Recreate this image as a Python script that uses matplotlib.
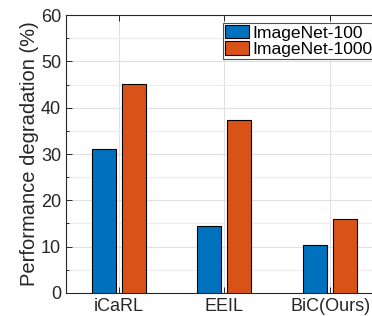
import matplotlib
matplotlib.use("Agg")
import matplotlib.pyplot as plt
from matplotlib.ticker import MultipleLocator
import numpy as np

plt.rcParams['font.family'] = ['Liberation Sans', 'DejaVu Sans']

methods = ['iCaRL', 'EEIL', 'BiC(Ours)']
imagenet100 = [31.0, 14.5, 10.4]
imagenet1000 = [45.1, 37.3, 15.9]
series_names = ['ImageNet-100', 'ImageNet-1000']
colors = ['#0072BD', '#D95319']
txt = '#262626'

fig = plt.figure(figsize=(3.72, 3.16), dpi=100)
ax = fig.add_axes((0.1774, 0.0728, 0.852, 0.8797))

x = np.arange(1, len(methods) + 1)
w = 0.227
off = 0.142
ax.bar(x - off, imagenet100, w, color=colors[0], edgecolor='black', linewidth=0.8,
       label=series_names[0], zorder=3)
ax.bar(x + off, imagenet1000, w, color=colors[1], edgecolor='black', linewidth=0.8,
       label=series_names[1], zorder=3)

ax.set_xlim(0.5, 3.5)
ax.set_ylim(0, 60)
ax.set_xticks(x)
ax.set_xticklabels(methods)
ax.yaxis.set_major_locator(MultipleLocator(10))
ax.yaxis.set_minor_locator(MultipleLocator(5))
ax.grid(True, which='major', color='#e0e0e0', linewidth=0.8, zorder=0)
ax.grid(True, which='minor', axis='y', color='#ececec', linewidth=0.8, zorder=0)
ax.tick_params(which='both', direction='in', top=True, right=True, colors=txt,
               labelsize=13, length=4, width=0.7)
ax.tick_params(which='minor', length=2.5)
for s in ax.spines.values():
    s.set_color(txt)
    s.set_linewidth(0.8)
ax.set_ylabel('Performance degradation (%)', fontsize=14.5, color=txt, labelpad=1)

leg = fig.legend(loc='upper left', bbox_to_anchor=(223 / 372, 1 - 23 / 316),
                 fontsize=12.6, frameon=True, fancybox=False, edgecolor=txt,
                 handlelength=1.35, handleheight=0.8, handletextpad=0.2,
                 borderpad=0.12, labelspacing=0.02, borderaxespad=0)
leg.get_frame().set_linewidth(0.8)
for t in leg.get_texts():
    t.set_color('black')

fig.savefig('out.png', dpi=100)
